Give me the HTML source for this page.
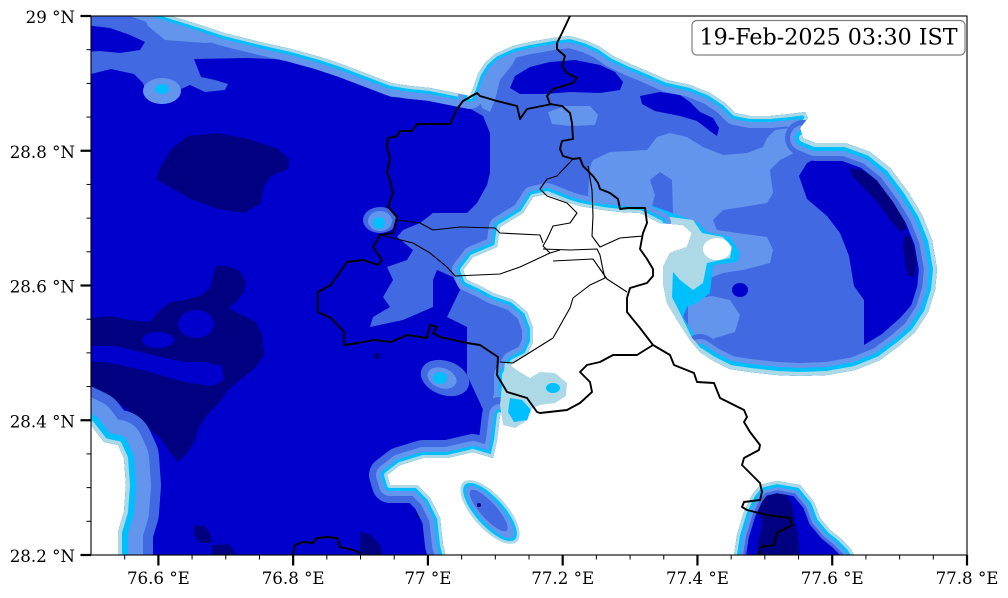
<!DOCTYPE html>
<html><head><meta charset="utf-8"><style>
html,body{margin:0;padding:0;background:#fff;}
svg{display:block;}
text{font-family:"DejaVu Serif","Liberation Serif",serif;fill:#000;}
</style></head><body>
<svg width="1008" height="598" viewBox="0 0 1008 598" xmlns="http://www.w3.org/2000/svg">
<defs>
<clipPath id="pc"><rect x="91" y="16" width="876" height="539"/></clipPath>
<clipPath id="rc"><path d="M40,-40 L120,-40 L140,6 L171,16 L200,25 L224,33 L260,42 L291,49 L320,57 L341,64 L370,75 L391,83 L410,86 L430,88 L450,92 L470,96 L474,86 L478,74 L485,63 L495,54 L513,46 L530,42 L553,38 L570,36 L587,41 L600,47 L613,56 L630,64 L647,71 L667,80 L690,85 L710,93 L725,103 L735,113 L750,116 L770,116 L790,114 L805,112 L808,118 L800,128 L803,138 L815,143 L845,143 L870,152 L890,168 L908,192 L922,215 L932,240 L937,269 L935,290 L928,312 L915,332 L900,345 L880,360 L855,370 L827,375 L800,376 L777,375 L750,372 L730,369 L712,360 L700,352 L690,340 L677,320 L667,303 L663,283 L663,267 L670,253 L687,247 L692,233 L683,225 L660,223 L640,213 L620,212 L603,210 L580,206 L570,203 L547,194 L533,197 L523,213 L500,227 L497,247 L473,257 L463,270 L467,280 L480,286 L493,293 L513,300 L527,312 L533,328 L533,342 L527,355 L513,362 L505,375 L505,395 L500,415 L497,440 L493,458 L473,452 L447,458 L423,458 L400,465 L387,475 L390,485 L417,485 L430,498 L440,518 L443,545 L447,560 L450,620 L116,620 L118,555 L118,532 L124,512 L126,485 L124,458 L118,445 L104,442 L91,425 L40,410 Z"/></clipPath>
<clipPath id="sec"><path d="M730,600 L734,555 L737,535 L744,512 L752,495 L760,485 L777,481 L800,485 L814,502 L820,518 L830,530 L840,538 L850,548 L856,558 L860,600 Z"/></clipPath>
</defs>

<rect x="0" y="0" width="1008" height="598" fill="#fff"/>

<g clip-path="url(#pc)">
  <!-- main rain region -->
  <path d="M40,-40 L120,-40 L140,6 L171,16 L200,25 L224,33 L260,42 L291,49 L320,57 L341,64 L370,75 L391,83 L410,86 L430,88 L450,92 L470,96 L474,86 L478,74 L485,63 L495,54 L513,46 L530,42 L553,38 L570,36 L587,41 L600,47 L613,56 L630,64 L647,71 L667,80 L690,85 L710,93 L725,103 L735,113 L750,116 L770,116 L790,114 L805,112 L808,118 L800,128 L803,138 L815,143 L845,143 L870,152 L890,168 L908,192 L922,215 L932,240 L937,269 L935,290 L928,312 L915,332 L900,345 L880,360 L855,370 L827,375 L800,376 L777,375 L750,372 L730,369 L712,360 L700,352 L690,340 L677,320 L667,303 L663,283 L663,267 L670,253 L687,247 L692,233 L683,225 L660,223 L640,213 L620,212 L603,210 L580,206 L570,203 L547,194 L533,197 L523,213 L500,227 L497,247 L473,257 L463,270 L467,280 L480,286 L493,293 L513,300 L527,312 L533,328 L533,342 L527,355 L513,362 L505,375 L505,395 L500,415 L497,440 L493,458 L473,452 L447,458 L423,458 L400,465 L387,475 L390,485 L417,485 L430,498 L440,518 L443,545 L447,560 L450,620 L116,620 L118,555 L118,532 L124,512 L126,485 L124,458 L118,445 L104,442 L91,425 L40,410 Z" fill="#0000CD"/>

  <g clip-path="url(#rc)">
    <!-- top-left royal -->
    <polygon fill="#4169E1" points="80,0 450,0 450,100 391,97 341,74 291,60 248,58 194,59 201,77 215,80 228,84 225,90 205,92 190,85 181,89 174,99 161,104 148,99 143,83 134,74 111,69 91,74 80,74"/>
    <polygon fill="#6495ED" points="140,10 175,10 220,30 245,40 205,43 165,40 148,26"/>
    <polygon fill="#0000CD" points="85,25 110,28 130,35 145,42 140,50 120,53 100,51 85,52"/>
    <!-- top-left ring -->
    <ellipse cx="162" cy="91" rx="19" ry="13" fill="#6495ED"/>
    <ellipse cx="162" cy="89" rx="7" ry="5" fill="#00BFFF"/>

    <!-- north/east royal -->
    <polygon fill="#4169E1" points="445,30 455,98 460,103 483,116 490,133 490,173 487,185 477,203 467,213 433,213 420,223 403,230 397,237 413,250 407,260 387,267 393,280 383,297 390,307 373,317 370,327 403,320 433,307 433,280 437,270 453,277 460,290 447,317 467,327 467,375 487,418 480,438 470,445 520,470 980,470 980,30"/>
    <!-- cornflower patches -->
    <polygon fill="#6495ED" points="478,96 481,75 490,60 505,52 520,50 512,65 500,80 495,100 490,112 482,108"/>
    <polygon fill="#6495ED" points="548,112 565,106 590,106 598,115 595,125 570,126 552,124"/>
    <polygon fill="#6495ED" points="588,195 590,167 593,160 610,152 647,150 657,137 670,133 687,137 703,147 723,155 747,153 763,147 767,138 775,130 797,127 803,143 800,150 780,160 770,170 773,193 767,203 743,207 723,210 713,220 717,230 737,233 767,237 773,250 770,263 743,270 723,273 705,280 690,250 660,218 620,210 600,205"/>
    <polygon fill="#4169E1" points="650,180 660,172 672,180 673,213 650,213 655,195"/>
    <polygon fill="#6495ED" points="688,300 712,296 730,300 740,315 735,332 715,338 700,350 688,330"/>
    <!-- mediumblue ovals -->
    <polygon fill="#0000CD" points="510,88 515,76 530,67 550,62 575,60 600,65 615,72 623,82 620,90 600,93 570,92 545,94 520,94"/>
    <polygon fill="#0000CD" points="640,96 660,92 680,95 690,102 700,112 713,118 719,128 717,136 710,131 697,121 680,116 655,111 642,104"/>
    <polygon fill="#0000CD" points="799,176 807,163 820,156 840,153 874,166 900,199 917,233 920,260 920,286 916,300 900,318 882,334 864,345 864,300 854,286 849,256 840,233 827,216 807,199"/>
    <polygon fill="#000080" points="850,168 862,170 878,180 893,196 903,213 907,228 900,232 890,220 878,203 862,186 852,176"/>
    <polygon fill="#000080" points="905,234 911,238 915,252 916,268 914,277 908,276 905,262 903,245"/>
    <ellipse cx="740" cy="290" rx="8" ry="7" fill="#0000CD"/>

    <!-- lightblue tongue east of Delhi -->
    <polygon fill="#00BFFF" points="650,205 697,222 707,232 730,237 740,253 737,262 713,265 710,293 697,303 687,307 683,317 693,333 703,350 690,360 650,300"/>
    <polygon fill="#ADD8E6" points="655,215 693,220 702,233 723,237 732,247 730,258 707,263 703,283 693,290 680,280 673,272 672,297 680,313 693,340 700,352 660,330 650,250"/>
    <ellipse cx="717" cy="249" rx="14" ry="11" fill="#fff"/>

    <!-- west navy -->
    <polygon fill="#000080" points="156,179 161,166 171,149 184,139 188,136 218,133 248,139 278,149 289,159 288,169 271,176 264,186 261,203 244,213 218,209 191,199 168,186"/>
    <polygon fill="#000080" points="91,318 110,316 130,320 150,322 160,310 170,302 185,300 200,296 210,288 213,275 216,266 228,266 240,271 246,282 244,292 236,302 228,308 240,314 256,322 262,335 264,355 255,368 240,380 228,390 220,402 208,414 200,425 195,440 188,452 178,462 170,452 160,438 145,425 128,410 110,397 91,388"/>
    <ellipse cx="196" cy="324" rx="18" ry="14" fill="#0000CD"/>
    <ellipse cx="158" cy="340" rx="16" ry="8" fill="#0000CD"/>
    <polygon fill="#0000CD" points="91,346 115,346 140,352 165,358 185,362 205,362 222,366 224,380 212,386 190,383 170,378 150,372 125,366 105,362 91,362"/>
    <polygon fill="#000080" points="194,525 205,526 211,535 212,543 200,543 194,535"/>
    <polygon fill="#000080" points="212,545 228,544 234,550 235,560 212,560"/>
    <polygon fill="#000080" points="360,532 370,534 380,545 384,560 360,560"/>
    <circle cx="377" cy="356" r="3.5" fill="#000080"/>
    <circle cx="418" cy="515" r="2.5" fill="#000080"/>

    <!-- west small ring -->
    <ellipse cx="380" cy="220" rx="17" ry="13" fill="#4169E1"/>
    <ellipse cx="380" cy="221" rx="12" ry="10" fill="#6495ED"/>
    <ellipse cx="379" cy="223" rx="6" ry="6" fill="#00BFFF"/>
    <!-- ring blob -->
    <ellipse cx="445" cy="378" rx="25" ry="17" transform="rotate(20 445 378)" fill="#4169E1"/>
    <ellipse cx="442" cy="378" rx="15" ry="10" transform="rotate(20 442 378)" fill="#6495ED"/>
    <ellipse cx="440" cy="378" rx="7" ry="6" fill="#00BFFF"/>

    <!-- edge bands -->
    <g fill="none" stroke-linejoin="round" stroke-linecap="round">
      <!-- S1 -->
      <polyline points="110,-9 140,6 171,16 200,25 224,33 260,42 291,49 320,57 341,64 370,75 391,83 410,86 430,88 450,92 470,96 474,86" stroke="#6495ED" stroke-width="26"/>
      <polyline points="110,-9 140,6 171,16 200,25 224,33 260,42 291,49 320,57 341,64 370,75 391,83 410,86 430,88 450,92 470,96 474,86" stroke="#00BFFF" stroke-width="12"/>
      <polyline points="110,-9 140,6 171,16 200,25 224,33 260,42 291,49 320,57 341,64 370,75 391,83 410,86 430,88 450,92 470,96 474,86" stroke="#ADD8E6" stroke-width="6"/>
      <!-- S2 -->
      <polyline points="470,96 474,86 478,74 485,63 495,54 513,46 530,42 553,38 570,36 587,41 600,47 613,56 630,64 647,71 667,80 690,85 710,93 725,103 735,113 750,116 770,116 790,114 805,112 808,118 800,128 803,138 815,143" stroke="#6495ED" stroke-width="24"/>
      <polyline points="470,96 474,86 478,74 485,63 495,54 513,46 530,42 553,38 570,36 587,41 600,47 613,56 630,64 647,71 667,80 690,85 710,93 725,103 735,113 750,116 770,116 790,114 805,112 808,118 800,128 803,138 815,143" stroke="#00BFFF" stroke-width="12"/>
      <polyline points="470,96 474,86 478,74 485,63 495,54 513,46 530,42 553,38 570,36 587,41 600,47 613,56 630,64 647,71 667,80 690,85 710,93 725,103 735,113 750,116 770,116 790,114 805,112 808,118 800,128 803,138 815,143" stroke="#ADD8E6" stroke-width="6"/>
      <!-- S3 -->
      <polyline points="803,138 815,143 845,143 870,152 890,168 908,192 922,215 932,240 937,269 935,290 928,312 915,332 900,345 880,360 855,370 827,375 800,376 777,375 750,372 730,369 712,360 700,352" stroke="#4169E1" stroke-width="36"/>
      <polyline points="803,138 815,143 845,143 870,152 890,168 908,192 922,215 932,240 937,269 935,290 928,312 915,332 900,345 880,360 855,370 827,375 800,376 777,375 750,372 730,369 712,360 700,352" stroke="#6495ED" stroke-width="26"/>
      <polyline points="803,138 815,143 845,143 870,152 890,168 908,192 922,215 932,240 937,269 935,290 928,312 915,332 900,345 880,360 855,370 827,375 800,376 777,375 750,372 730,369 712,360 700,352" stroke="#00BFFF" stroke-width="16"/>
      <polyline points="803,138 815,143 845,143 870,152 890,168 908,192 922,215 932,240 937,269 935,290 928,312 915,332 900,345 880,360 855,370 827,375 800,376 777,375 750,372 730,369 712,360 700,352" stroke="#ADD8E6" stroke-width="8"/>
      <!-- S4 -->
      <polyline points="712,360 700,352 690,340 677,320 667,303 663,283 663,267 670,253 687,247 692,233 683,225 660,223" stroke="#ADD8E6" stroke-width="6"/>
      <!-- S5 -->
      <polyline points="660,223 640,213 620,212 603,210 580,206 570,203 547,194 533,197 523,213 500,227 497,247 473,257 463,270 467,280 480,286 493,293 513,300 527,312 533,328 533,342 527,355 513,362 505,375 505,395 500,415 497,440" stroke="#6495ED" stroke-width="22"/>
      <polyline points="660,223 640,213 620,212 603,210 580,206 570,203 547,194 533,197 523,213 500,227 497,247 473,257 463,270 467,280 480,286 493,293 513,300 527,312 533,328 533,342 527,355 513,362 505,375 505,395 500,415 497,440" stroke="#00BFFF" stroke-width="12"/>
      <polyline points="660,223 640,213 620,212 603,210 580,206 570,203 547,194 533,197 523,213 500,227 497,247 473,257 463,270 467,280 480,286 493,293 513,300 527,312 533,328 533,342 527,355 513,362 505,375 505,395 500,415 497,440" stroke="#ADD8E6" stroke-width="6"/>
      <!-- S6 bay -->
      <polyline points="500,415 497,440 493,458 473,452 447,458 423,458 400,465 387,475 390,485 417,485 430,498 440,518 443,545 447,560 450,600" stroke="#4169E1" stroke-width="36"/>
      <polyline points="500,415 497,440 493,458 473,452 447,458 423,458 400,465 387,475 390,485 417,485 430,498 440,518 443,545 447,560 450,600" stroke="#6495ED" stroke-width="22"/>
      <polyline points="500,415 497,440 493,458 473,452 447,458 423,458 400,465 387,475 390,485 417,485 430,498 440,518 443,545 447,560 450,600" stroke="#00BFFF" stroke-width="12"/>
      <polyline points="500,415 497,440 493,458 473,452 447,458 423,458 400,465 387,475 390,485 417,485 430,498 440,518 443,545 447,560 450,600" stroke="#ADD8E6" stroke-width="6"/>
      <!-- S7 bottom-left -->
      <polyline points="116,600 118,555 118,532 124,512 126,485 124,458 118,445 104,442 91,425 70,415" stroke="#4169E1" stroke-width="70"/>
      <polyline points="116,600 118,555 118,532 124,512 126,485 124,458 118,445 104,442 91,425 70,415" stroke="#6495ED" stroke-width="50"/>
      <polyline points="116,600 118,555 118,532 124,512 126,485 124,458 118,445 104,442 91,425 70,415" stroke="#00BFFF" stroke-width="20"/>
      <polyline points="116,600 118,555 118,532 124,512 126,485 124,458 118,445 104,442 91,425 70,415" stroke="#ADD8E6" stroke-width="8"/>
    </g>
  </g>

  <!-- lightblue lobe south of Delhi hole -->
  <polygon fill="#ADD8E6" points="505,362 520,372 530,378 540,372 555,373 567,383 566,396 555,403 540,405 530,410 528,420 515,428 503,425 500,405 502,385"/>
  <ellipse cx="553" cy="388" rx="7" ry="5" fill="#00BFFF"/>
  <polygon fill="#00BFFF" points="510,398 522,400 531,410 527,420 514,422 508,412"/>

  <!-- SE blob -->
  <g clip-path="url(#sec)">
    <rect x="700" y="470" width="200" height="140" fill="#0000CD"/>
    <polygon fill="#000080" points="758,495 770,490 785,492 792,505 795,520 798,535 800,560 760,560 758,540 763,525 758,510"/>
    <g fill="none" stroke-linejoin="round">
      <path d="M730,600 L734,555 L737,535 L744,512 L752,495 L760,485 L777,481 L800,485 L814,502 L820,518 L830,530 L840,538 L850,548 L856,558 L860,600" stroke="#4169E1" stroke-width="24"/>
      <path d="M730,600 L734,555 L737,535 L744,512 L752,495 L760,485 L777,481 L800,485 L814,502 L820,518 L830,530 L840,538 L850,548 L856,558 L860,600" stroke="#6495ED" stroke-width="18"/>
      <path d="M730,600 L734,555 L737,535 L744,512 L752,495 L760,485 L777,481 L800,485 L814,502 L820,518 L830,530 L840,538 L850,548 L856,558 L860,600" stroke="#00BFFF" stroke-width="12"/>
      <path d="M730,600 L734,555 L737,535 L744,512 L752,495 L760,485 L777,481 L800,485 L814,502 L820,518 L830,530 L840,538 L850,548 L856,558 L860,600" stroke="#ADD8E6" stroke-width="6"/>
    </g>
  </g>

  <!-- island -->
  <g transform="rotate(48 490 512)">
    <ellipse cx="490" cy="512" rx="40" ry="17" fill="#ADD8E6"/>
    <ellipse cx="490" cy="512" rx="37" ry="14" fill="#00BFFF"/>
    <ellipse cx="490" cy="512" rx="34" ry="11" fill="#6495ED"/>
    <ellipse cx="488" cy="512" rx="27" ry="8" fill="#4169E1"/>
  </g>
  <circle cx="479" cy="505" r="2" fill="#000080"/>

  <!-- boundaries: thick -->
  <g fill="none" stroke="#000" stroke-width="1.9" stroke-linejoin="round">
    <polyline points="570,16 562,33 557,43 557,49 565,56 562,66 567,73 577,78 573,83 553,89 547,96 550,104 562,106 570,113 572,123 573,139 562,141 560,149 563,156 573,159 580,158 583,166 593,176 598,183 600,189 610,193 618,199 620,209 628,208 645,208 647,223 643,233 640,249 647,259 653,269 653,276 647,283 630,288 627,298 627,312 640,328 653,345 670,355 674,365 694,373 697,382 714,383 720,398 744,410 747,417 744,422 750,432 760,445 759,450 744,458 742,465 750,473 760,483 762,492 760,500 744,502 742,507 747,510 767,515 790,518 792,525 777,533 774,545 760,547 759,553 767,560"/>
    <polyline points="552,104 527,109 520,119 517,106 497,101 480,96 477,93 463,101 457,109 450,124 417,124 412,131 400,131 397,136 388,138 387,146 390,159 387,173 390,180 393,193 388,207 397,217 393,233 380,235 373,247 382,260 378,265 363,260 347,262 331,285 318,292 318,312 331,318 344,332 344,345 358,343 374,340 391,342 407,335 427,338 430,325 437,327 433,333 440,337 467,343 480,345 498,357 497,375 507,392 527,398 537,412 540,413 567,410 580,403 592,392 590,382 580,372 587,365 600,362 613,355 637,355 653,345"/>
    <polyline points="291,560 293,553 295,545 303,542 313,543 317,538 327,537 337,538 340,547 353,550 360,553 362,560"/>
  </g>
  <!-- thin district lines -->
  <g fill="none" stroke="#000" stroke-width="1.1" stroke-linejoin="round">
    <polyline points="397,220 420,223 433,230 460,227 495,228 500,233 540,235 543,243"/>
    <polyline points="380,235 413,243 430,253 447,267 455,276 500,274 520,267 550,253 560,250"/>
    <polyline points="573,159 557,176 547,179 540,189 547,196 567,203 577,213 570,223 553,226 547,239 543,246 550,253"/>
    <polyline points="588,166 592,190 593,216 592,236 600,247 620,238 643,236"/>
    <polyline points="543,249 570,250 597,249 600,255 603,270 605,278 590,285 573,298 570,308 553,338 513,363 500,362"/>
    <polyline points="553,261 593,259 607,279 627,292"/>
  </g>
</g>

<!-- frame -->
<rect x="91" y="16" width="876" height="539" fill="none" stroke="#000" stroke-width="1.1"/>

<!-- y ticks -->
<g stroke="#000" stroke-width="2.2">
  <line x1="80.5" y1="16" x2="91" y2="16"/>
  <line x1="80.5" y1="150.75" x2="91" y2="150.75"/>
  <line x1="80.5" y1="285.5" x2="91" y2="285.5"/>
  <line x1="80.5" y1="420.25" x2="91" y2="420.25"/>
  <line x1="80.5" y1="555" x2="91" y2="555"/>
</g>
<g stroke="#000" stroke-width="1">
  <line x1="86.5" y1="49.69" x2="91" y2="49.69"/>
  <line x1="86.5" y1="83.38" x2="91" y2="83.38"/>
  <line x1="86.5" y1="117.06" x2="91" y2="117.06"/>
  <line x1="86.5" y1="184.44" x2="91" y2="184.44"/>
  <line x1="86.5" y1="218.13" x2="91" y2="218.13"/>
  <line x1="86.5" y1="251.81" x2="91" y2="251.81"/>
  <line x1="86.5" y1="319.19" x2="91" y2="319.19"/>
  <line x1="86.5" y1="352.88" x2="91" y2="352.88"/>
  <line x1="86.5" y1="386.56" x2="91" y2="386.56"/>
  <line x1="86.5" y1="453.94" x2="91" y2="453.94"/>
  <line x1="86.5" y1="487.63" x2="91" y2="487.63"/>
  <line x1="86.5" y1="521.31" x2="91" y2="521.31"/>
</g>
<!-- x ticks -->
<g stroke="#000" stroke-width="2.2">
  <line x1="158.38" y1="555" x2="158.38" y2="565.5"/>
  <line x1="293.15" y1="555" x2="293.15" y2="565.5"/>
  <line x1="427.92" y1="555" x2="427.92" y2="565.5"/>
  <line x1="562.69" y1="555" x2="562.69" y2="565.5"/>
  <line x1="697.46" y1="555" x2="697.46" y2="565.5"/>
  <line x1="832.23" y1="555" x2="832.23" y2="565.5"/>
  <line x1="967" y1="555" x2="967" y2="565.5"/>
</g>
<g stroke="#000" stroke-width="1">
  <line x1="124.69" y1="555" x2="124.69" y2="559.5"/>
  <line x1="192.08" y1="555" x2="192.08" y2="559.5"/>
  <line x1="225.77" y1="555" x2="225.77" y2="559.5"/>
  <line x1="259.46" y1="555" x2="259.46" y2="559.5"/>
  <line x1="326.85" y1="555" x2="326.85" y2="559.5"/>
  <line x1="360.54" y1="555" x2="360.54" y2="559.5"/>
  <line x1="394.23" y1="555" x2="394.23" y2="559.5"/>
  <line x1="461.62" y1="555" x2="461.62" y2="559.5"/>
  <line x1="495.31" y1="555" x2="495.31" y2="559.5"/>
  <line x1="529" y1="555" x2="529" y2="559.5"/>
  <line x1="596.38" y1="555" x2="596.38" y2="559.5"/>
  <line x1="630.08" y1="555" x2="630.08" y2="559.5"/>
  <line x1="663.77" y1="555" x2="663.77" y2="559.5"/>
  <line x1="731.15" y1="555" x2="731.15" y2="559.5"/>
  <line x1="764.85" y1="555" x2="764.85" y2="559.5"/>
  <line x1="798.54" y1="555" x2="798.54" y2="559.5"/>
  <line x1="865.92" y1="555" x2="865.92" y2="559.5"/>
  <line x1="899.62" y1="555" x2="899.62" y2="559.5"/>
  <line x1="933.31" y1="555" x2="933.31" y2="559.5"/>
</g>

<!-- labels -->
<g font-size="16.67" text-anchor="end">
  <text x="75" y="23">29 °N</text>
  <text x="75" y="158">28.8 °N</text>
  <text x="75" y="292.5">28.6 °N</text>
  <text x="75" y="427.5">28.4 °N</text>
  <text x="75" y="562">28.2 °N</text>
</g>
<g font-size="16.67" text-anchor="middle">
  <text x="158.38" y="584">76.6 °E</text>
  <text x="293.15" y="584">76.8 °E</text>
  <text x="427.92" y="584">77 °E</text>
  <text x="562.69" y="584">77.2 °E</text>
  <text x="697.46" y="584">77.4 °E</text>
  <text x="832.23" y="584">77.6 °E</text>
  <text x="967" y="584">77.8 °E</text>
</g>

<!-- title box -->
<rect x="692" y="20.5" width="273" height="34.5" rx="5" ry="5" fill="#fff" stroke="#808080" stroke-width="1.2"/>
<text x="699.5" y="44.5" font-size="22.2">19-Feb-2025 03:30 IST</text>
</svg>
</body></html>
